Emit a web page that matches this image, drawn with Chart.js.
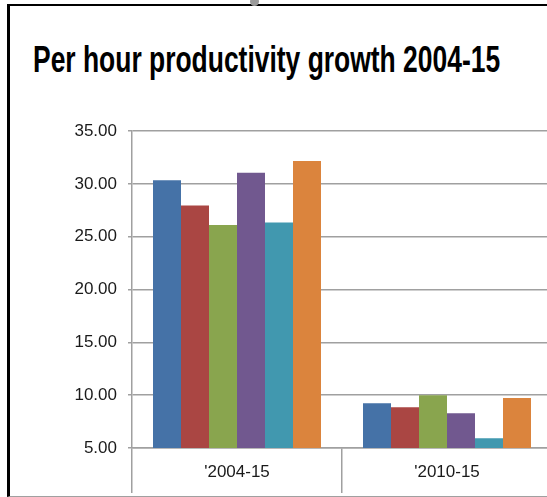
<!DOCTYPE html>
<html>
<head>
<meta charset="utf-8">
<script src="https://cdn.jsdelivr.net/npm/chart.js@4.4.1/dist/chart.umd.min.js"></script>
<style>
  html, body { margin: 0; padding: 0; background: #fff; overflow: hidden; }
  #frame { position: absolute; left: 7px; top: 4px; width: 560px; height: 490px;
           border-left: 3px solid #000; border-top: 2px solid #000; border-bottom: 1px solid #a0a0a0; }
  #knob { position: absolute; left: 250px; top: -3px; width: 9px; height: 9px; border-radius: 50%; background: #9a9a9a; }
  #title { position: absolute; left: 33px; top: 42px; margin: 0; white-space: nowrap;
           font: bold 36px 'Liberation Sans', Arial, sans-serif; line-height: 1;
           color: #000; transform-origin: 0 0; }
  #wrap { position: absolute; left: 0; top: 0; width: 560px; height: 497px; }
</style>
</head>
<body>
<div id="frame"></div>
<div id="knob"></div>
<h1 id="title">Per hour productivity growth 2004-15</h1>
<div id="wrap"><canvas id="grafico" width="560" height="497"></canvas></div>
<script>
const periodos = ["'2004-15", "'2010-15"];
const serie1 = [30.35, 9.23];
const serie2 = [27.96, 8.85];
const serie3 = [26.10, 10.00];
const serie4 = [31.05, 8.30];
const serie5 = [26.35, 5.92];
const serie6 = [32.15, 9.73];
const cores = ['#4572a7', '#aa4643', '#89a54e', '#71588f', '#4198af', '#db843d'];

const series = [serie1, serie2, serie3, serie4, serie5, serie6];
const fonte = "'Liberation Sans', Arial, sans-serif";

// título estreito como no original (Calibri)
const titulo = document.getElementById('title');
titulo.style.transform = 'scale(' + (467 / titulo.offsetWidth) + ', 1)';

new Chart(document.getElementById('grafico'), {
    type: 'bar',
    data: {
        labels: periodos,
        datasets: series.map((s, i) => ({
            label: 'Series ' + (i + 1),
            data: s,
            backgroundColor: cores[i],
            borderWidth: 0,
            categoryPercentage: 0.8,
            barPercentage: 1.0
        }))
    },
    options: {
        responsive: false,
        animation: false,
        layout: { padding: { top: 131, right: 8, left: 0, bottom: 0 } },
        plugins: { legend: { display: false }, title: { display: false }, tooltip: { enabled: false } },
        scales: {
            y: {
                min: 5, max: 35,
                ticks: { stepSize: 5, padding: 11, color: '#1a1a1a', font: { family: fonte, size: 17 },
                         callback: v => v.toFixed(2) },
                grid: { color: '#a0a0a0', lineWidth: 1.5, tickLength: 4 },
                border: { color: '#a0a0a0', width: 1.5 },
                afterFit: scale => { scale.width = 132; }
            },
            x: {
                ticks: { padding: -31, color: '#1a1a1a', font: { family: fonte, size: 17 } },
                grid: { offset: true, drawOnChartArea: false, color: '#a0a0a0', lineWidth: 1.5, tickLength: 45 },
                border: { color: '#a0a0a0', width: 1.5 },
                afterFit: scale => { scale.height = 49; }
            }
        }
    }
});
</script>
</body>
</html>
